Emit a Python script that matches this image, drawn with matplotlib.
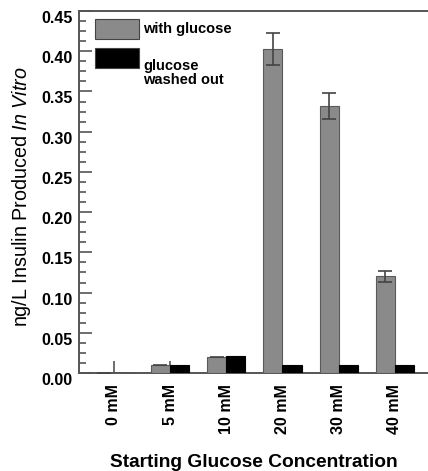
import numpy as np
import matplotlib
matplotlib.use("Agg")
import matplotlib.pyplot as plt
import matplotlib.transforms as mtransforms
from matplotlib.patches import Rectangle

plt.rcParams['font.family'] = ['Liberation Sans', 'DejaVu Sans']
plt.rcParams['mathtext.fontset'] = 'custom'
plt.rcParams['mathtext.rm'] = 'Liberation Sans'
plt.rcParams['mathtext.it'] = 'Liberation Sans:italic'

# data
conc = ['0 mM', '5 mM', '10 mM', '20 mM', '30 mM', '40 mM']
with_glucose = [0.0, 0.010, 0.020, 0.403, 0.332, 0.120]
with_err = [0.0, 0.0, 0.0, 0.020, 0.016, 0.007]
washed_out = [0.0, 0.010, 0.021, 0.010, 0.010, 0.010]

fig = plt.figure(figsize=(4.28, 4.71), dpi=100)
ax = fig.add_axes([79/428, 1-373/471, 1-79/428, (373-11)/471])

x = np.arange(len(conc))
w = 0.34
gray = '#8a8a8a'
ax.bar(x - w/2, with_glucose, w, color=gray, edgecolor='#5a5a5a', linewidth=0.8,
       yerr=[[e if e > 0 else np.nan for e in with_err], with_err],
       error_kw=dict(ecolor='#444444', elinewidth=1.2, capsize=5, capthick=1.2),
       zorder=3)
ax.bar(x + w/2, washed_out, w, color='black', edgecolor='black', linewidth=0.8, zorder=3)

ax.set_xlim(-0.62, 5.59)
ax.set_ylim(0, 0.45)
ax.set_axisbelow(True)

for s in ['left', 'bottom', 'top']:
    ax.spines[s].set_color('#555555')
    ax.spines[s].set_linewidth(1.4)
ax.spines['right'].set_visible(False)

ax.set_xticks(x)
ax.set_xticklabels(conc, rotation=90, fontsize=11.5, fontweight='bold')
ax.set_yticks(np.arange(0, 0.451, 0.05))
ax.set_yticks(np.arange(0, 0.451, 0.0125), minor=True)
ax.set_yticklabels(['%.2f' % v for v in np.arange(0, 0.451, 0.05)], fontsize=11.5, fontweight='bold')
ax.tick_params(axis='y', which='major', direction='in', length=9, width=1.2, color='#555555', pad=4.5)
ax.tick_params(axis='y', which='minor', direction='in', length=5, width=1.2, color='#555555')
ax.tick_params(axis='x', which='major', direction='in', length=9, width=1.2, color='#555555', pad=8)
ax.tick_params(axis='x', which='minor', bottom=False)

# labels sit a few pixels under their ticks in the original
off = mtransforms.ScaledTranslation(0, -6/100, fig.dpi_scale_trans)
for lab in ax.get_yticklabels():
    lab.set_transform(lab.get_transform() + off)

ax.set_ylabel('ng/L Insulin Produced $\\mathit{In\\ Vitro}$', fontsize=14.25)
ax.yaxis.set_label_coords(-0.131, 0.5 - 5/362)
ax.set_xlabel('Starting Glucose Concentration', fontsize=13.75, fontweight='bold', labelpad=14)

# legend drawn by hand to match layout
def px2ax(px, py):
    return (px - 79) / (428 - 79), (373 - py) / (373 - 11)

for (top, col, label, ty) in [(19, gray, 'with glucose', 29), (48, 'black', 'glucose\nwashed out', 73)]:
    x0, y0 = px2ax(95, top + 20)
    x1, y1 = px2ax(139, top)
    ax.add_patch(Rectangle((x0, y0), x1 - x0, y1 - y0, transform=ax.transAxes,
                           facecolor=col, edgecolor='#444444', linewidth=0.8, zorder=4))
    tx, tyy = px2ax(143, ty)
    ax.text(tx, tyy, label, transform=ax.transAxes, fontsize=10.5, fontweight='bold',
            va='center', ha='left', linespacing=1.05)

fig.savefig('out.png', dpi=100)
